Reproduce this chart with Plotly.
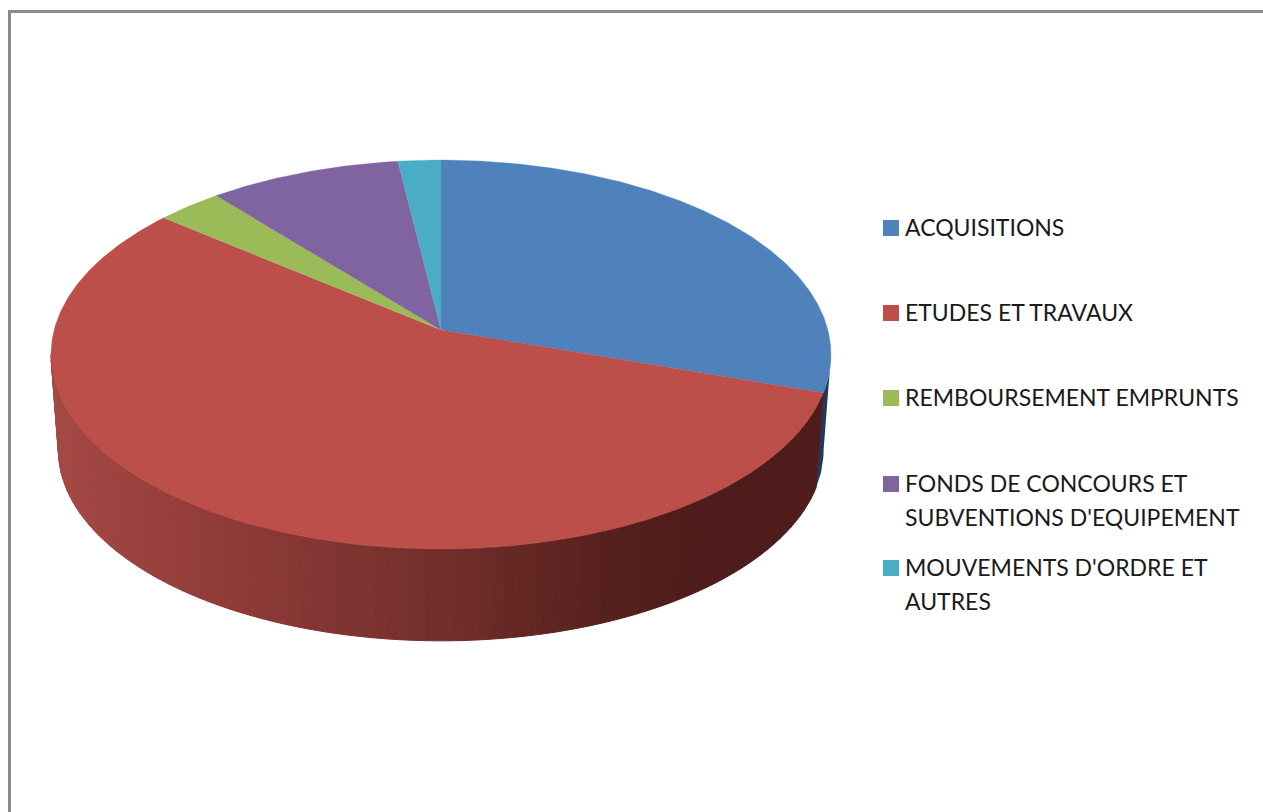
import numpy as np
import plotly.graph_objects as go

categories = ["ACQUISITIONS", "ETUDES ET TRAVAUX", "REMBOURSEMENT EMPRUNTS",
              "FONDS DE CONCOURS ET SUBVENTIONS D'EQUIPEMENT", "MOUVEMENTS D'ORDRE ET AUTRES"]
values = [30.1, 55.8, 3.1, 9.0, 2.0]
colors = ["#4F81BD", "#BD4F4B", "#9BBB59", "#8064A2", "#4BACC6"]
legend_lines = [["ACQUISITIONS"], ["ETUDES ET TRAVAUX"], ["REMBOURSEMENT EMPRUNTS"],
                ["FONDS DE CONCOURS ET", "SUBVENTIONS D'EQUIPEMENT"],
                ["MOUVEMENTS D'ORDRE ET", "AUTRES"]]

W, H = 1263, 812
CX, TOP_Y, BOT_Y = 441.0, 330.0, 426.0
A, B, K = 386.9, 191.4, 0.126
BOT_SCALE = 0.981


def project(theta_deg, cy=TOP_Y, s=1.0):
    t = np.radians(np.asarray(theta_deg, dtype=float))
    u, v = np.sin(t), np.cos(t)
    w = 1 + K * v
    return CX + s * A * u / w, cy - s * B * v / w


fig = go.Figure()
cum = np.concatenate([[0], np.cumsum(values) / np.sum(values) * 360])
sil = np.degrees(np.arccos(-K))  # right silhouette angle of the disc


def poly(x, y, color, name, width=0.0):
    fig.add_trace(go.Scatter(x=list(x) + [x[0]], y=list(y) + [y[0]], mode="lines", fill="toself",
                             fillcolor=color, line=dict(color=color, width=width),
                             showlegend=False, hoverinfo="skip", name=name))


# side wall of the blue slice (thin dark sliver)
ths = np.linspace(sil, cum[1], 12)
xt, yt = project(ths)
xb, yb = project(ths, BOT_Y, BOT_SCALE)
poly(np.r_[xt, xb[::-1]], np.r_[yt, yb[::-1]], "#1F3A5C", categories[0] + " side")

# side wall of the red slice, shaded by horizontal position
stops_x = [50, 230, 441, 600, 700, 830]
stops_c = np.array([[165, 73, 69], [143, 59, 56], [115, 47, 44], [88, 33, 30], [78, 28, 26], [78, 28, 26]])
edges = np.linspace(cum[1], 360 - sil, 91)
for a, b in zip(edges[:-1], edges[1:]):
    ths = np.linspace(a, b, 3)
    xt, yt = project(ths)
    xb, yb = project(ths, BOT_Y, BOT_SCALE)
    xm = xt.mean()
    c = [int(np.interp(xm, stops_x, stops_c[:, i])) for i in range(3)]
    poly(np.r_[xt, xb[::-1]], np.r_[yt, yb[::-1]], f"rgb({c[0]},{c[1]},{c[2]})", categories[1] + " side", 1.0)

# top faces
for i, cat in enumerate(categories):
    ths = np.linspace(cum[i], cum[i + 1], max(int(cum[i + 1] - cum[i]) * 2, 8))
    x, y = project(ths)
    poly(np.r_[CX, x], np.r_[TOP_Y, y], colors[i], cat, 0.3)

# legend
key_y = [228, 313, 398, 484, 568]
fig.add_trace(go.Scatter(x=[891] * 5, y=key_y, mode="markers", showlegend=False, hoverinfo="skip",
                         marker=dict(symbol="square", size=16, color=colors, line=dict(width=0))))
tx, ty, tt = [], [], []
for y0, lines in zip(key_y, legend_lines):
    for j, line in enumerate(lines):
        tx.append(905)
        ty.append(y0 + 2 + j * 34)
        tt.append(line)
fig.add_trace(go.Scatter(x=tx, y=ty, text=tt, mode="text", textposition="middle right", showlegend=False,
                         hoverinfo="skip", textfont=dict(family="Lato", size=23, color="#1a1a1a")))

fig.update_layout(
    width=W, height=H, margin=dict(l=0, r=0, t=0, b=0), paper_bgcolor="white", plot_bgcolor="white",
    xaxis=dict(range=[0, W], visible=False, fixedrange=True),
    yaxis=dict(range=[H, 0], visible=False, fixedrange=True),
    shapes=[dict(type="rect", xref="x", yref="y", x0=9.5, y0=11.5, x1=W + 10, y1=H + 10,
                 line=dict(color="#8C8C8C", width=3), layer="below")],
)
fig.write_html("out.html", config={"displayModeBar": False},
               post_script="document.body.style.margin='0';")
